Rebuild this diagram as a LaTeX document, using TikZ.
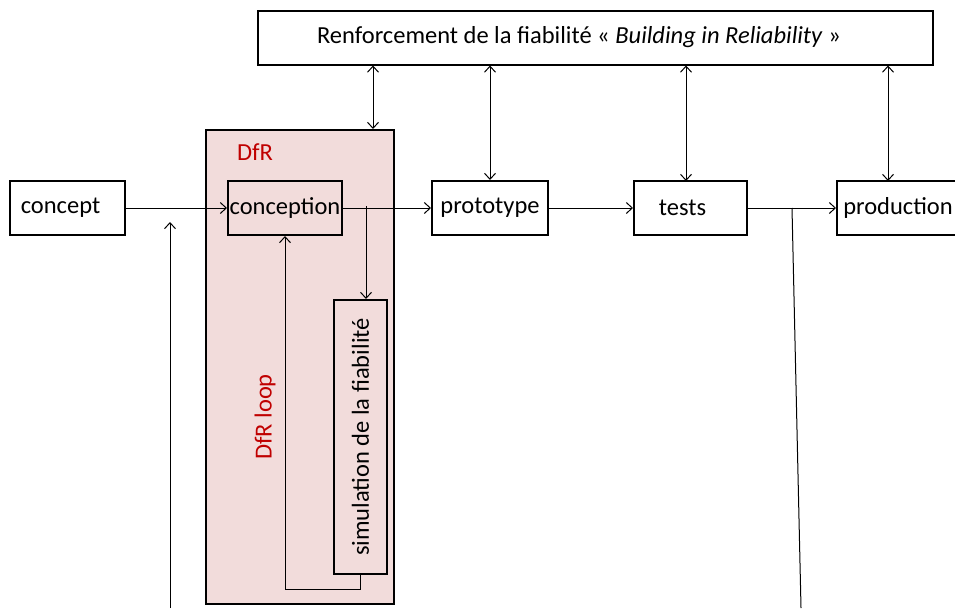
\documentclass[tikz,border=0pt]{standalone}
\usepackage{fontspec}
\setmainfont{Carlito}
\usetikzlibrary{arrows.meta}
\definecolor{pinkfill}{HTML}{F2DCDB}
\definecolor{dfrred}{HTML}{C00000}
\begin{document}
\begin{tikzpicture}[x=1pt,y=-1pt,
  box/.style={draw=black, line width=2pt, minimum height=54pt, inner sep=0pt, font=\fontsize{24.5}{28}\selectfont},
  conn/.style={line width=1pt, -{Straight Barb[length=6pt,width=11pt]}},
  dconn/.style={line width=1pt, {Straight Barb[length=6pt,width=11pt]}-{Straight Barb[length=6pt,width=11pt]}},
  plain/.style={line width=1pt},
  redlbl/.style={text=dfrred, font=\fontsize{24.5}{28}\selectfont, inner sep=0pt}]
\useasboundingbox (0,0) rectangle (955,608);
% DfR container
\node[draw=black, line width=2pt, fill=pinkfill, minimum width=188pt, minimum height=474pt, inner sep=0pt] (dfr) at (300,367) {};
\node[redlbl] (dfrlbl) at (255,152) {DfR};
% top box
\node[box, minimum width=675pt] (top) at (595.5,37.5) {\hspace*{-33pt}Renforcement de la fiabilité « \textit{Building in Reliability} »};
% main boxes
\node[box, minimum width=115pt] (concept) at (67.5,208) {\hspace*{-14pt}concept};
\node[box, fill=pinkfill, minimum width=114pt] (conception) at (285,208) {conception};
\node[box, minimum width=116pt] (prototype) at (490,208) {prototype};
\node[box, minimum width=113pt] (tests) at (690.5,208) {\hspace*{-16pt}tests};
\node[box, minimum width=124pt, anchor=west] (production) at (836,208) {\hspace*{-2pt}production};
% simulation box
\node[box, fill=pinkfill, minimum width=53pt, minimum height=274pt] (sim) at (360.5,437) {};
\node[rotate=90, font=\fontsize{24.5}{28}\selectfont, inner sep=0pt] (simtxt) at (sim.center) {simulation de la fiabilité};
\node[redlbl, rotate=90] (looplbl) at (265,417) {DfR loop};
% coordinates
\coordinate (c1) at (366,208);
\coordinate (c2) at (170,608);
\coordinate (c3) at (170,222);
\coordinate (c4) at (792,208);
\coordinate (c5) at (801,608);
% horizontal flow
\draw[conn] (concept.east) -- (conception.west);
\draw[conn] (conception.east) -- (prototype.west);
\draw[conn] (prototype.east) -- (tests.west);
\draw[conn] (tests.east) -- (production.west);
% vertical extras
\draw[conn] (c2) -- (c3);
\draw[plain] (c4) -- (c5);
\draw[conn] ([yshift=2pt]c1) -- (sim.north -| c1);
\draw[conn] (sim.south) -- ++(0,14) -| (conception.south);
% top double arrows
\draw[dconn] (top.south -| dfr.north east) ++(-22,0) coordinate (t1) -- (t1 |- dfr.north);
\draw[dconn] (top.south -| prototype.north) -- (prototype.north);
\draw[dconn] (top.south -| 686,0) -- (686,181);
\draw[dconn] (top.south -| 888,0) -- (888,181);
\end{tikzpicture}
\end{document}
